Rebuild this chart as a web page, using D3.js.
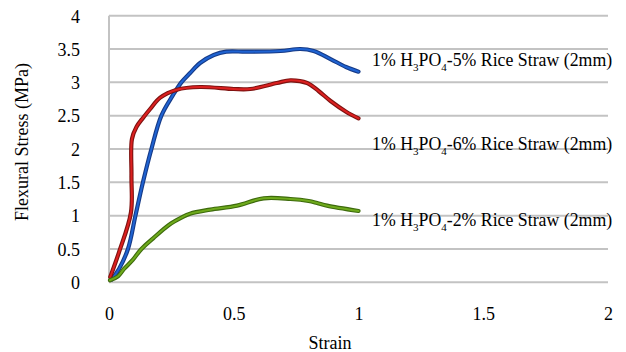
<!DOCTYPE html>
<html>
<head>
<meta charset="utf-8">
<script src="https://cdn.jsdelivr.net/npm/d3@7"></script>
<style>
  html, body { margin: 0; padding: 0; background: #fff; }
  svg { display: block; }
  text { font-family: "Liberation Serif", "Times New Roman", serif; fill: #000; }
</style>
</head>
<body>
<svg id="chart" width="626" height="352"></svg>
<script>
// Flexural stress vs strain for three rice-straw loadings
const xTicks = [0, 0.5, 1, 1.5, 2];
const yTicks = [0, 0.5, 1, 1.5, 2, 2.5, 3, 3.5, 4];

const strain5 = [0.01, 0.04, 0.076, 0.106, 0.136, 0.17, 0.21, 0.255, 0.29, 0.325, 0.365, 0.42, 0.47, 0.55, 0.687, 0.767, 0.82, 0.888, 0.95, 1.0];
const stress5 = [0.04, 0.2, 0.5, 1.0, 1.5, 2.0, 2.5, 2.8, 3.0, 3.14, 3.29, 3.41, 3.46, 3.46, 3.47, 3.5, 3.47, 3.35, 3.23, 3.16];

const strain6 = [0.005, 0.04, 0.088, 0.09, 0.092, 0.11, 0.137, 0.165, 0.205, 0.272, 0.365, 0.5, 0.566, 0.673, 0.727, 0.794, 0.84, 0.888, 0.95, 1.0];
const stress6 = [0.08, 0.45, 1.05, 1.6, 2.15, 2.33, 2.47, 2.6, 2.77, 2.89, 2.93, 2.9, 2.9, 2.99, 3.03, 2.99, 2.87, 2.72, 2.56, 2.46];

const strain2 = [0.004, 0.036, 0.06, 0.096, 0.13, 0.177, 0.24, 0.29, 0.325, 0.406, 0.513, 0.62, 0.727, 0.8, 0.834, 0.874, 1.0];
const stress2 = [0.03, 0.09, 0.2, 0.34, 0.5, 0.66, 0.86, 0.97, 1.03, 1.09, 1.15, 1.26, 1.25, 1.22, 1.19, 1.15, 1.07];

const seriesNames = ["5%", "6%", "2%"];
const labelStress = [3.33, 2.075, 0.93];

const series = [
  { name: seriesNames[0], xs: strain5, ys: stress5, edge: "#163a86", core: "#1f63d2" },
  { name: seriesNames[1], xs: strain6, ys: stress6, edge: "#7e1210", core: "#dc2020" },
  { name: seriesNames[2], xs: strain2, ys: stress2, edge: "#3d6a0c", core: "#6eaa1c" }
];

const svg = d3.select("#chart");
const x = d3.scaleLinear().domain([0, 2]).range([109, 608]);
const y = d3.scaleLinear().domain([0, 4]).range([282.3, 15.7]);

// horizontal grid
svg.append("g")
  .selectAll("line")
  .data(yTicks)
  .join("line")
  .attr("x1", x(0)).attr("x2", x(2))
  .attr("y1", d => y(d)).attr("y2", d => y(d))
  .attr("stroke", "#c3c3c3").attr("stroke-width", 2);

// left axis line
svg.append("line")
  .attr("x1", x(0)).attr("x2", x(0))
  .attr("y1", y(4)).attr("y2", y(0))
  .attr("stroke", "#c3c3c3").attr("stroke-width", 2);

// y tick labels
const yAxis = d3.axisLeft(y).tickValues(yTicks).tickSize(0).tickPadding(0).tickFormat(d3.format("~g"));
const gy = svg.append("g").attr("transform", "translate(80,0)").call(yAxis);
gy.select(".domain").remove();
gy.selectAll("text")
  .attr("font-size", 18).attr("fill", "#000").attr("dy", "0.35em");

// x tick labels
const xAxis = d3.axisBottom(x).tickValues(xTicks).tickSize(0).tickPadding(0).tickFormat(d3.format("~g"));
const gx = svg.append("g").attr("transform", "translate(0,307)").call(xAxis);
gx.select(".domain").remove();
gx.selectAll("text")
  .attr("font-size", 18).attr("fill", "#000");

// axis titles
svg.append("text")
  .attr("x", 330).attr("y", 349)
  .attr("text-anchor", "middle").attr("font-size", 18)
  .text("Strain");

svg.append("text")
  .attr("transform", "translate(28,142) rotate(-90)")
  .attr("text-anchor", "middle").attr("font-size", 18)
  .text("Flexural Stress (MPa)");

// curves
const line = d3.line()
  .x(d => x(d[0])).y(d => y(d[1]))
  .curve(d3.curveCatmullRom.alpha(0.5));

const gLines = svg.append("g").attr("fill", "none").attr("stroke-linecap", "round").attr("stroke-linejoin", "round");
series.forEach(s => {
  const pts = s.xs.map((v, i) => [v, s.ys[i]]);
  gLines.append("path").attr("d", line(pts)).attr("stroke", s.edge).attr("stroke-width", 4.2);
  gLines.append("path").attr("d", line(pts)).attr("stroke", s.core).attr("stroke-width", 2);
});

// series labels
const gLab = svg.append("g").attr("font-size", 17.8);
series.forEach((s, i) => {
  const t = gLab.append("text").attr("x", 372).attr("y", y(labelStress[i]) + 6);
  t.append("tspan").text("1% H");
  t.append("tspan").attr("font-size", 11).attr("dy", 5).text("3");
  t.append("tspan").attr("dy", -5).text("PO");
  t.append("tspan").attr("font-size", 11).attr("dy", 5).text("4");
  t.append("tspan").attr("dy", -5).text("-" + s.name + " Rice Straw (2mm)");
});
</script>
</body>
</html>
